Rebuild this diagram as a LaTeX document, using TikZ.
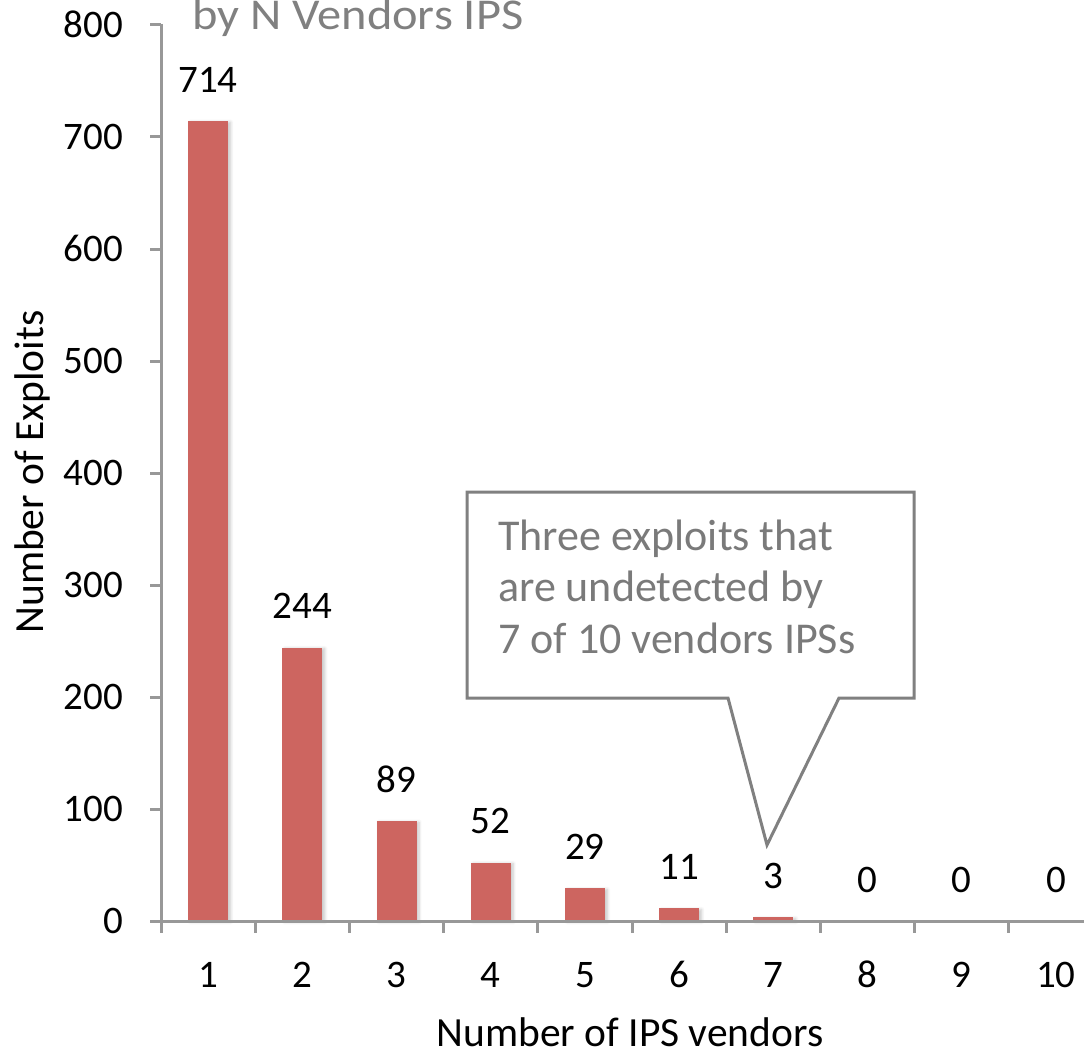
\documentclass[tikz,border=0pt]{standalone}
\usepackage{fontspec}
\setmainfont{Carlito}
\usetikzlibrary{shadows.blur}
\definecolor{barred}{RGB}{205,101,96}
\definecolor{axisgray}{RGB}{152,152,152}
\definecolor{notegray}{RGB}{122,122,122}
\definecolor{titlegray}{RGB}{128,128,128}
\begin{document}
\begin{tikzpicture}[x=1pt,y=-1pt,
  bar/.style={fill=barred, draw=none, inner sep=0pt, minimum width=40pt, anchor=south,
    blur shadow={shadow xshift=2.5pt, shadow yshift=-1pt, shadow blur steps=6,
                 shadow opacity=22, shadow blur radius=3pt}},
  ticklab/.style={font=\fontsize{39}{47}\selectfont, inner sep=0pt},
  axtitle/.style={font=\fontsize{41.5}{50}\selectfont, inner sep=0pt},
  axisline/.style={draw=axisgray, line width=3pt},
  notetext/.style={font=\fontsize{44}{52}\selectfont, text=notegray, inner sep=0pt, anchor=base west},
  noteframe/.style={draw=titlegray, line width=3pt, fill=white, line join=miter}]
\useasboundingbox (0,0) rectangle (1084,1054);

% plot origin: x = 161, y = 921; 112 units per 100 exploits; 94.2 per category
\coordinate (origin) at (161,921);

% bars with their value labels
\foreach \i/\v in {1/714,2/244,3/89,4/52,5/29,6/11,7/3,8/0,9/0,10/0}{
  \pgfmathsetmacro{\cx}{161+94.2*(\i-0.5)}
  \pgfmathsetmacro{\h}{1.12*\v}
  \ifnum\v>0
    \node[bar, minimum height=\h pt] (bar\i) at (\cx,921) {};
  \fi
  \node[ticklab, anchor=base] (val\i) at (\cx,{921-\h-29}) {\v};
  \node[ticklab, anchor=base] (cat\i) at (\cx,987) {\i};
}

% axes
\draw[axisline] (161,24) -- (origin);
\draw[axisline] (150,921) -- (1084,921);
\foreach \k in {0,...,8}{
  \pgfmathtruncatemacro{\lab}{100*\k}
  \draw[axisline] (150,{921-112*\k}) -- (161,{921-112*\k});
  \node[ticklab, anchor=base east] (ylab\k) at (123,{921-112*\k+12.5}) {\lab};
}
\foreach \k in {0,...,9}{
  \draw[axisline] ({161+94.2*\k},921) -- ({161+94.2*\k},933);
}

% axis titles
\node[axtitle, rotate=90] (ytitle) at (32,472) {Number of Exploits};
\node[axtitle, anchor=base, text depth=0pt] (xtitle) at (630,1046) {Number of IPS vendors};

% chart title (its top runs past the upper edge)
\node[anchor=base west, font=\fontsize{44}{52}\selectfont, text=titlegray, inner sep=0pt, xscale=1.1]
  (title) at (192,30) {by N Vendors IPS};

% callout pointing at the bar for 7 vendors
\coordinate (tip) at (767,845);
\draw[noteframe] (467,492) -- (914,492) -- (914,698) -- (839,698) -- (tip)
  -- (728,698) -- (467,698) -- cycle;
\node[notetext] (note1) at (498,550) {Three exploits that};
\node[notetext] (note2) at (498,601.5) {are undetected by};
\node[notetext] (note3) at (498,653) {7 of 10 vendors IPSs};
\end{tikzpicture}
\end{document}
